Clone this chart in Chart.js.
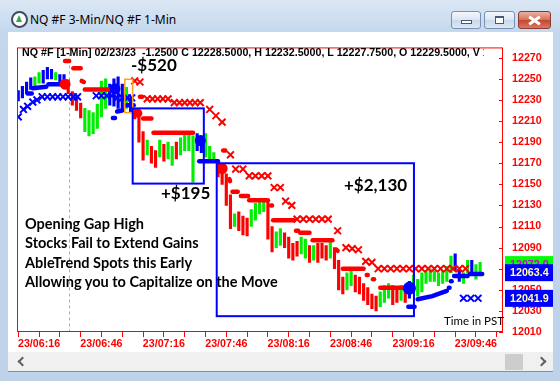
<!DOCTYPE html>
<html>
<head>
<meta charset="utf-8">
<title>NQ #F 3-Min/NQ #F 1-Min</title>
<script src="https://cdn.jsdelivr.net/npm/chart.js@4.4.1/dist/chart.umd.min.js"></script>
<style>
  html, body { margin: 0; padding: 0; background: #fff; }
  #win { position: relative; width: 560px; height: 381px; overflow: hidden;
         background: linear-gradient(#dbe7f4, #c3d7ed 34px, #bed3ea); }
  #icon { position: absolute; left: 11px; top: 11px; width: 13px; height: 13px; border-radius: 50%;
          border: 2px solid #3d4c5c; background: #fff; }
  #icon:after { content: ""; position: absolute; left: 3px; top: 2px; border-left: 3.5px solid transparent;
                border-right: 3.5px solid transparent; border-bottom: 7px solid #2fa84f; }
  #title { position: absolute; left: 30px; top: 11px; font: 12px "Noto Sans", sans-serif; color: #000; }
  .btn { position: absolute; top: 11px; height: 16px; border: 1px solid #7891b3; border-radius: 3px;
         background: linear-gradient(#f4f7fb, #dbe5f1 50%, #c9d8ea 51%, #dce7f3); }
  #bmin { left: 451px; width: 28px; }
  #bmax { left: 484px; width: 29px; }
  #bclose { left: 518px; width: 31px; border-color: #8a3a2e;
            background: linear-gradient(#eab3a5, #d86d55 50%, #c4452d 51%, #d77a63); }
  #bmin i { position: absolute; left: 9px; top: 8px; width: 9px; height: 2px; background: #fff; border: 1px solid #435a78; }
  #bmax i { position: absolute; left: 10px; top: 4px; width: 7px; height: 5px; border: 1px solid #435a78; border-top-width: 2px; background: #fff; }
  #bclose i, #bclose b { position: absolute; left: 9px; top: 7px; width: 13px; height: 3px; background: #fff; }
  #bclose i { transform: rotate(35deg); }
  #bclose b { transform: rotate(-35deg); }
  #content { position: absolute; left: 8px; top: 32px; width: 545px; height: 320px; background: #fff; }
  #hscroll { position: absolute; left: 8px; top: 352px; width: 545px; height: 19px; background: #f0f0f0;
             border-bottom: 1px solid #7d8fa6; }
  #thumb { position: absolute; left: 497px; top: 2px; width: 18px; height: 16px; background: #cdcdcd; }
  .chev { position: absolute; top: 6px; width: 5px; height: 5px; border-left: 2px solid #606060; border-bottom: 2px solid #606060; }
  #cl { left: 11px; transform: rotate(45deg); }
  #cr { left: 530px; transform: rotate(-135deg); }
  .txt { position: absolute; white-space: nowrap; color: #000; }
  #hdr { left: 22px; top: 46px; width: 462px; overflow: hidden; font: bold 10.7px "Liberation Sans", Arial, sans-serif; line-height: 12px; }
  .pnl { font: bold 17px Lato, sans-serif; line-height: 18px; }
  #story { left: 25px; top: 214px; font: bold 14.5px Lato, sans-serif; line-height: 19.3px; }
  #tz { left: 444px; top: 314px; font: 11.5px Lato, sans-serif; line-height: 13px; }
</style>
</head>
<body>
<div id="win">
  <div id="icon"></div>
  <div id="title">NQ #F 3-Min/NQ #F 1-Min</div>
  <div class="btn" id="bmin"><i></i></div>
  <div class="btn" id="bmax"><i></i></div>
  <div class="btn" id="bclose"><i></i><b></b></div>
  <div id="content"><canvas id="chart" width="545" height="320"></canvas></div>
  <div id="hscroll"><div class="chev" id="cl"></div><div id="thumb"></div><div class="chev" id="cr"></div></div>
  <div class="txt" id="hdr">NQ #F [1-Min] 02/23/23&nbsp; -1.2500 C 12228.5000, H 12232.5000, L 12227.7500, O 12229.5000, V 1234</div>
  <div class="txt pnl" style="left:131px; top:56px;">-$520</div>
  <div class="txt pnl" style="left:161px; top:184px;">+$195</div>
  <div class="txt pnl" style="left:344px; top:176px;">+$2,130</div>
  <div class="txt" id="story">Opening Gap High<br>Stocks Fail to Extend Gains<br>AbleTrend Spots this Early<br>Allowing you to Capitalize on the Move</div>
  <div class="txt" id="tz">Time in PST</div>
</div>
<script>
// minutes after 06:16 PST, 1-min NQ bars sampled every 2 minutes
const barTimes = [-10,-8,-6,-4,-2,0,2,4,6,8,10,12,14,16,18,20,22,24,26,28,30,32,34,36,38,40,42,44,
  46,48,50,52,54,56,58,60,62,64,66,68,70,72,74,76,78,80,82,84,86,88,90,92,94,96,98,100,102,104,106,108,
  110,112,114,116,118,120,122,124,126,128,130,132,134,136,138,140,142,144,146,148,150,152,154,156,158,160,
  162,164,166,168,170,172,174,176,178,180,182,184,186,188,190,192,194,196,198,200,202,204,206,208,210,212];
const barLows = [12229,12232,12236,12240,12243,12246,12246,12250,12250,12249,12245,12246,
  12236,12225,12220,12213,12200,12196,12198,12203,12214,12222,12225,12224,12222,12220,12222,12218,
  12212,12190,12173,12178,12170,12166,12176,12172,12174,12168,12174,12178,12182,12182,12152,12182,12180,12176,12172,12171,
  12157,12150,12130,12108,12110,12106,12102,12101,12110,12116,12122,12124,12098,12086,12090,12092,12090,12080,12078,12082,
  12084,12080,12076,12078,12076,12080,12078,12080,12070,12050,12046,12050,12054,12048,12046,12040,12036,12032,12030,12034,
  12038,12042,12036,12038,12040,12038,12042,12048,12044,12048,12056,12058,12058,12054,12056,12058,12066,12068,12058,12056,12066,12064,12060,12066];
const barHighs = [12239,12243,12247,12251,12252,12256,12258,12261,12259,12256,12254,12254,
  12249,12238,12234,12227,12222,12220,12218,12226,12248,12250,12245,12250,12252,12245,12242,12232,
  12222,12215,12200,12192,12186,12182,12192,12188,12190,12186,12190,12194,12198,12198,12196,12198,12196,12198,12186,12180,
  12169,12167,12160,12140,12122,12124,12120,12118,12126,12132,12136,12136,12134,12110,12105,12108,12104,12100,12094,12096,
  12100,12098,12092,12092,12094,12094,12092,12096,12090,12078,12062,12066,12070,12064,12062,12056,12052,12046,12044,12048,
  12054,12056,12054,12052,12054,12052,12058,12064,12060,12066,12068,12070,12068,12066,12068,12072,12082,12084,12070,12066,12078,12078,12074,12076];
// trend colour of each bar: b = up, g = neutral, r = down
const barTrend = ("bbbbggbbbgbb" + "rrrrggggggbbbbgb" + "rrrgrrgrggrggggbbggg" +
  "rrrrgrrrggggrrggrrrr" + "ggrgrrrgrrrggrrrrrrg" + "ggrrgrbggggggggggbbggbggg").split("");

// AbleTrend stop markers (3-min)
const blueXTimes = [-10, -7.5, -5.5, -3, -1, 1.5, 4, 6.5, 9, 11.5, 14, 16.5, 18.5, 27.5, 30, 32.5, 35, 37.5, 40, 42.5, 44.5, 204, 207.5, 211];
const blueXPrices = [12214, 12221, 12224, 12228, 12230, 12233, 12233, 12233, 12233, 12233, 12233, 12233, 12233,
  12234, 12234, 12234, 12234, 12232, 12232, 12232, 12232, 12042, 12042, 12042];
const redXTimes = [46, 48.5, 52, 54.5, 57, 59.5, 62, 65, 67.5, 70, 72.5, 75, 77.5, 82, 85, 88, 92, 94.5, 98,
  101, 104, 107, 110, 113, 116, 118.5, 121.5, 124, 127, 130, 133, 136, 139, 143.5, 147.5, 150.5, 153.5, 157, 160,
  163, 166, 169, 172, 175, 178, 181, 184, 187, 190, 193, 196, 199, 202, 205];
const redXPrices = [12248, 12247, 12231, 12231, 12231, 12231, 12231, 12227.5, 12227.5, 12227.5, 12227.5, 12227.5, 12227.5,
  12221, 12215, 12209, 12178, 12164.5, 12164.5, 12158, 12158, 12158, 12158, 12147, 12147, 12134, 12130,
  12117, 12117, 12117, 12117, 12117, 12117, 12106, 12090, 12089, 12088, 12077, 12076,
  12070, 12070, 12070, 12070, 12070, 12070, 12070, 12070, 12070, 12070, 12070, 12070, 12070, 12070, 12070];

// AbleTrend trailing dot lines, one piece per segment [time, price]
const redTrail = [
  [[12.5, 12267], [14.5, 12267]], [[16.5, 12260], [20, 12260]], [[20.5, 12248], [21.5, 12247]],
  [[22, 12240], [35, 12240]], [[48.5, 12233], [49.5, 12233]], [[50, 12212.5], [54, 12212.5]],
  [[55, 12199], [74, 12199]], [[88.5, 12182], [89.5, 12182]], [[91.5, 12155], [91.8, 12153]],
  [[93, 12143], [95.5, 12143]], [[97, 12139], [100.5, 12139]], [[101, 12135], [110, 12135]],
  [[111.5, 12130], [112, 12130]], [[112.5, 12116], [122.5, 12116]], [[123.5, 12106], [124.5, 12106]],
  [[125.5, 12104], [130, 12104]], [[131.5, 12097], [141, 12097]], [[143, 12088], [143.5, 12087]],
  [[146, 12070], [156, 12070]], [[157.5, 12064], [158, 12064]], [[160.5, 12060], [161, 12060]],
  [[164, 12052], [175, 12052]]
];
const blueTrail = [
  [[-5.5, 12236], [-3.5, 12236]], [[-3, 12241], [3.5, 12242.5]], [[4.5, 12245], [11.5, 12245]],
  [[35.5, 12213], [36.5, 12213]], [[37.5, 12219], [40, 12220]], [[42, 12225], [45.5, 12225]],
  [[77, 12172], [86, 12172]], [[177.5, 12034], [180.5, 12034]], [[182, 12041], [189, 12044], [196, 12049]],
  [[197, 12052], [197.3, 12052]], [[198, 12058], [198.3, 12058]], [[199.5, 12063], [206, 12063]],
  [[207, 12065], [213, 12065]]
];

// entry / exit signal dots
const redSignalTimes = [12.5, 47.5, 88];
const redSignalPrices = [12245, 12217.5, 12165];
const blueSignalTimes = [36.5, 77.5, 178];
const blueSignalPrices = [12240.5, 12191.5, 12051.5];

// trade boxes [t0, t1, pHigh, pLow]
const tradeBoxes = [[45, 79.2, 12222, 12150.7], [85.4, 180.2, 12170, 12025]];
const setupBox = [41.2, 45, 12249.6, 12218];
const gapLineTime = 14.3;

// axes
const xTickValues = [-10, 0, 10, 20, 30, 40, 50, 60, 70, 80, 90, 100, 110, 120, 130, 140, 150, 160, 170, 180, 190, 200, 210, 220];
const xMajorValues = [0, 30, 60, 90, 120, 150, 180, 210];
const xMajorLabels = ["23/06:16", "23/06:46", "23/07:16", "23/07:46", "23/08:16", "23/08:46", "23/09:16", "23/09:46"];
const yTickValues = [12010, 12030, 12050, 12070, 12090, 12110, 12130, 12150, 12170, 12190, 12210, 12230, 12250, 12270];

// last price tags on the right axis
const tagValues = [12072.0, 12063.4, 12041.9];
const tagTexts = ["12072.0", "12063.4", "12041.9"];

const trendColor = { b: "#0000ff", g: "#00ee00", r: "#ff0000" };

const overlay = {
  id: "overlay",
  beforeDatasetsDraw(chart) {
    const { ctx, chartArea: a, scales: { x } } = chart;
    ctx.save();
    ctx.strokeStyle = "#ff9a1a";
    ctx.lineWidth = 1;
    ctx.setLineDash([3, 3]);
    const gx = Math.round(x.getPixelForValue(gapLineTime)) + 0.5;
    ctx.beginPath(); ctx.moveTo(gx, a.top); ctx.lineTo(gx, a.bottom); ctx.stroke();
    ctx.restore();
  },
  afterDatasetsDraw(chart) {
    const { ctx, chartArea: a, scales: { x, y } } = chart;
    ctx.save();
    const rect = (b) => {
      const x0 = x.getPixelForValue(b[0]), x1 = x.getPixelForValue(b[1]);
      const y0 = y.getPixelForValue(b[2]), y1 = y.getPixelForValue(b[3]);
      ctx.strokeRect(x0, y0, x1 - x0, y1 - y0);
    };
    ctx.strokeStyle = "#ffa020"; ctx.lineWidth = 1.5;
    rect(setupBox);
    ctx.strokeStyle = "#0000ff"; ctx.lineWidth = 2;
    tradeBoxes.forEach(rect);
    // plot frame and inner y ticks
    ctx.strokeStyle = "#ff0000"; ctx.lineWidth = 1;
    ctx.strokeRect(a.left + 0.5, a.top + 0.5, a.right - a.left - 1, a.bottom - a.top - 1);
    ctx.beginPath();
    yTickValues.forEach(v => {
      const py = Math.round(y.getPixelForValue(v)) + 0.5;
      ctx.moveTo(a.right - 4, py); ctx.lineTo(a.right, py);
    });
    ctx.stroke();
    ctx.restore();
  },
  afterDraw(chart) {
    const { ctx, chartArea: a, scales: { y } } = chart;
    const fills = ["#00ff00", "#0000ff", "#0000ff"];
    const inks = ["#d000d0", "#ffffb0", "#ffffb0"];
    const shift = [-2, -3, 0];
    ctx.save();
    ctx.font = "bold 10.7px 'Liberation Sans', Arial, sans-serif";
    ctx.textBaseline = "middle";
    tagValues.forEach((v, i) => {
      const cy = y.getPixelForValue(v) + shift[i];
      ctx.fillStyle = fills[i];
      ctx.fillRect(a.right + 2, cy - 8.5, 60, 17);
      ctx.fillStyle = inks[i];
      ctx.fillText(tagTexts[i], a.right + 7, cy + 0.5);
    });
    ctx.restore();
  }
};

const trailSet = (seg, color) => ({
  type: "line",
  data: seg.map(p => ({ x: p[0], y: p[1] })),
  borderColor: color,
  borderWidth: 4.5,
  borderCapStyle: "round",
  pointRadius: 0,
  order: 5
});

const datasets = [
  {
    type: "scatter",
    data: redSignalTimes.map((t, i) => ({ x: t, y: redSignalPrices[i] })),
    backgroundColor: "#ff0000", borderWidth: 0, pointRadius: [5.5, 4.5, 5.5], order: 1
  },
  {
    type: "scatter",
    data: blueSignalTimes.map((t, i) => ({ x: t, y: blueSignalPrices[i] })),
    backgroundColor: "#0000ff", borderWidth: 0, pointRadius: [5.5, 5.5, 6.5], order: 1
  },
  {
    type: "scatter",
    data: redXTimes.map((t, i) => ({ x: t, y: redXPrices[i] })),
    pointStyle: "crossRot", pointRadius: 4.8, borderColor: "#ff0000", borderWidth: 2, order: 3
  },
  {
    type: "scatter",
    data: blueXTimes.map((t, i) => ({ x: t, y: blueXPrices[i] })),
    pointStyle: "crossRot", pointRadius: 4.8, borderColor: "#0000ff", borderWidth: 2, order: 3
  },
  ...redTrail.map(s => trailSet(s, "#ff0000")),
  ...blueTrail.map(s => trailSet(s, "#0000ff")),
  {
    type: "bar",
    data: barTimes.map((t, i) => ({ x: t, y: [barLows[i], barHighs[i]] })),
    backgroundColor: barTrend.map(c => trendColor[c]),
    barThickness: 2.5,
    order: 10
  }
];

const axisFont = { family: "'Liberation Sans', Arial, sans-serif", size: 10.7, weight: "bold" };

new Chart(document.getElementById("chart"), {
  type: "bar",
  data: { datasets },
  options: {
    responsive: false,
    animation: false,
    devicePixelRatio: 1,
    layout: { padding: { left: 9, top: 8.7, right: 0, bottom: 0 } },
    plugins: { legend: { display: false }, tooltip: { enabled: false } },
    scales: {
      x: {
        type: "linear", position: "bottom", min: -10.6, max: 223, offset: false,
        grid: { offset: false, drawOnChartArea: false, color: "#ff0000", tickLength: 5 },
        border: { display: false },
        afterBuildTicks: s => { s.ticks = xTickValues.map(v => ({ value: v })); },
        afterFit: s => { s.height = 20; },
        ticks: {
          autoSkip: false, maxRotation: 0, padding: 1, color: "#ff0000", font: axisFont,
          callback: v => { const k = xMajorValues.indexOf(v); return k >= 0 ? xMajorLabels[k] : ""; }
        }
      },
      y: {
        position: "right", min: 12010, max: 12279.8,
        grid: { drawOnChartArea: false, drawTicks: false },
        border: { display: false },
        afterBuildTicks: s => { s.ticks = yTickValues.map(v => ({ value: v })); },
        afterFit: s => { s.width = 50; },
        ticks: { padding: 9, color: "#ff0000", font: axisFont, callback: v => String(v) }
      }
    }
  },
  plugins: [overlay]
});
</script>
</body>
</html>
